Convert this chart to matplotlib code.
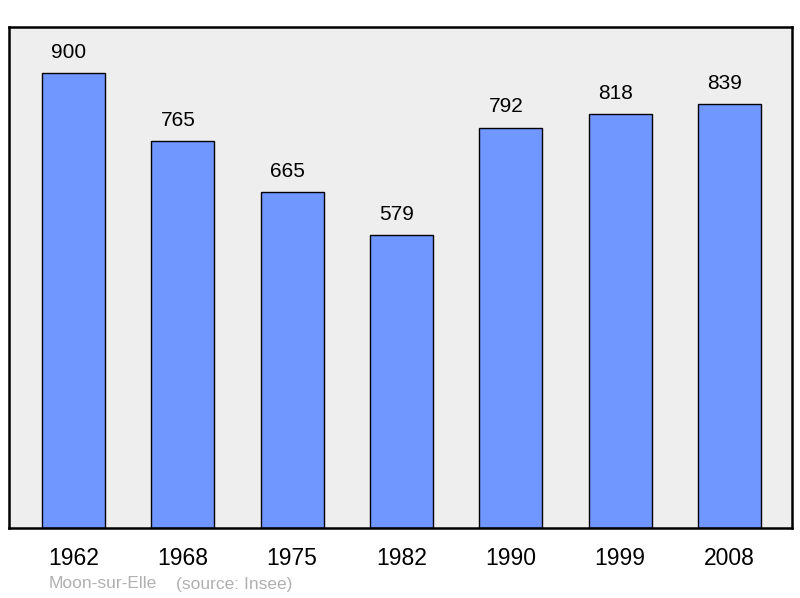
import matplotlib.pyplot as plt

years = ["1962", "1968", "1975", "1982", "1990", "1999", "2008"]
population = [900, 765, 665, 579, 792, 818, 839]
commune = "Moon-sur-Elle"
source = "(source: Insee)"

plt.rcParams['font.family'] = ['Liberation Sans', 'DejaVu Sans']

fig = plt.figure(figsize=(8, 5.98), dpi=100)
ax = fig.add_axes([9 / 800, 70 / 598, 783 / 800, 501 / 598])
ax.set_facecolor("#eeeeee")

x = range(len(years))
ax.bar(x, population, width=0.575, color="#7096ff", edgecolor="black", linewidth=1.0)

# value labels sit a bit left of the bar centre in the original
for i, v in enumerate(population):
    ax.annotate(str(v), (i, v), xytext=(-3.5, 11), textcoords="offset points",
                ha="center", va="baseline", fontsize=15)

ax.set_xlim(-0.589, 6.571)
ax.set_ylim(0, 991)
ax.set_yticks([])
ax.set_xticks(list(x))
ax.set_xticklabels(years, fontsize=16.5)
ax.tick_params(axis="x", length=0, pad=13.5)
for s in ax.spines.values():
    s.set_linewidth(1.8)

fig.text(49 / 800, 1 - 584 / 598, commune, color="#b0b0b0", fontsize=12.5, va="center")
fig.text(176 / 800, 1 - 584 / 598, source, color="#b0b0b0", fontsize=12.5, va="center")

fig.savefig("out.png", dpi=100)
